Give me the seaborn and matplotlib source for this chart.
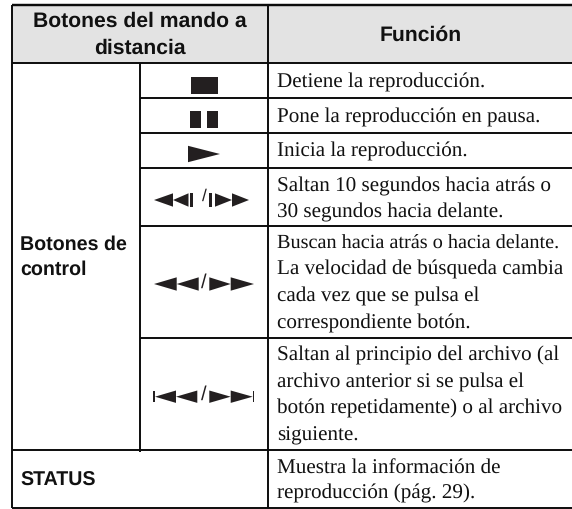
import matplotlib
matplotlib.use("Agg")
import matplotlib.pyplot as plt
import seaborn as sns

W, H = 572, 509
sns.set_theme(style="white", rc={"font.family": ["Liberation Serif"],
                                 "text.hinting": "none", "text.hinting_factor": 8})

# table content
header_left = ["Botones del mando a", "distancia"]
header_right = "Función"
group_label = ["Botones de", "control"]
status_label = "STATUS"
function_lines = [
    "Detiene la reproducción.",
    "Pone la reproducción en pausa.",
    "Inicia la reproducción.",
    "Saltan 10 segundos hacia atrás o",
    "30 segundos hacia delante.",
    "Buscan hacia atrás o hacia delante.",
    "La velocidad de búsqueda cambia",
    "cada vez que se pulsa el",
    "correspondiente botón.",
    "Saltan al principio del archivo (al",
    "archivo anterior si se pulsa el",
    "botón repetidamente) o al archivo",
    "siguiente.",
    "Muestra la información de",
    "reproducción (pág. 29).",
]
baselines = [87.3, 122.3, 156.7, 191.7, 217.8, 249, 275, 301.7, 328.7,
             360.7, 387.3, 414, 440, 472.7, 498.5]
row_edges = [5.3, 63.3, 98, 133, 167.7, 225.7, 337.7, 450, 507.8]
col_edges = [12, 139.7, 268, 572]
INK = "#0c0c0c"
ICON = "#231f20"

fig = plt.figure(figsize=(W / 100, H / 100), dpi=100, facecolor="white")
ax = fig.add_axes([0, 0, 1, 1])
ax.set_xlim(0, W)
ax.set_ylim(H, 0)
ax.axis("off")

ax.fill_between(col_edges[::3], row_edges[0], row_edges[1], color="#e3e3e3", lw=0)

lw = 1.4
ax.hlines(row_edges[0], col_edges[0], col_edges[3], color=INK, lw=lw * 1.25)
ax.hlines(row_edges[1], col_edges[0], col_edges[3], color=INK, lw=lw)
ax.hlines(row_edges[2:7], col_edges[1], col_edges[3], color=INK, lw=lw)
ax.hlines(row_edges[7], col_edges[0], col_edges[3], color=INK, lw=lw)
ax.hlines(row_edges[8], col_edges[0], col_edges[3], color=INK, lw=lw)
ax.vlines([col_edges[0], col_edges[2]], row_edges[0], row_edges[8], color=INK, lw=lw)
ax.vlines(col_edges[1], row_edges[1], row_edges[7] + 1.5, color=INK, lw=lw)

head = dict(family="Liberation Sans", weight="bold", size=15.2, color="#111111", va="baseline")
bold = dict(family="Liberation Sans", weight="bold", size=14.1, color="#111111", va="baseline")
serif = dict(family="Liberation Serif", color="#111111", va="baseline")

ax.text(140, 26.7, header_left[0], ha="center", **head)
ax.text(140, 53.3, header_left[1], ha="center", **head)
ax.text(421, 40.7, header_right, ha="center", **head)
ax.text(20.5, 250, group_label[0], ha="left", **bold)
ax.text(20.5, 275, group_label[1], ha="left", **bold)
ax.text(20.5, 486, status_label, ha="left", **bold)

for line, yb in zip(function_lines, baselines):
    size = 14.6 if line.startswith("Buscan") else 15.2
    ax.text(277, yb, line, ha="left", size=size, **serif)

def tri(x0, x1, yc, h):
    ax.fill([x0, x1, x0], [yc - h, yc, yc + h], color=ICON, lw=0)

def box(x0, x1, y0, y1):
    ax.fill([x0, x1, x1, x0], [y0, y0, y1, y1], color=ICON, lw=0)

def slash(y, size):
    ax.text(204, y, "/", ha="center", va="center", family="Liberation Sans",
            size=size, color=ICON)

# icons
box(191, 218, 77, 94)
box(190, 201.3, 111, 128)
box(207, 218, 111, 128)
tri(188, 220, 154, 8.2)
# skip back / forward
y = 200
tri(173, 154, y, 6.7); tri(188.5, 173, y, 6.7)
box(190, 192.7, y - 6.7, y + 6.7)
box(209, 211.7, y - 6.7, y + 6.7)
tri(215, 232, y, 6.7); tri(232, 249, y, 6.7)
slash(196.5, 12.5)
# search
y = 284
tri(176.7, 154, y, 6.7); tri(198.7, 176.7, y, 6.7)
tri(209.3, 230.7, y, 6.7); tri(230.7, 254, y, 6.7)
slash(282.5, 14.5)
# previous / next
y = 396.7
box(153.3, 154.6, y - 5.7, y + 5.7)
box(252.6, 253.9, y - 5.7, y + 5.7)
tri(176, 155, y, 6.2); tri(197.3, 176, y, 6.2)
tri(209.3, 230.7, y, 6.2); tri(230.7, 252.7, y, 6.2)
slash(394.5, 14.5)

sns.despine(ax=ax, left=True, bottom=True)
fig.savefig("out.png", dpi=100, facecolor="white")
